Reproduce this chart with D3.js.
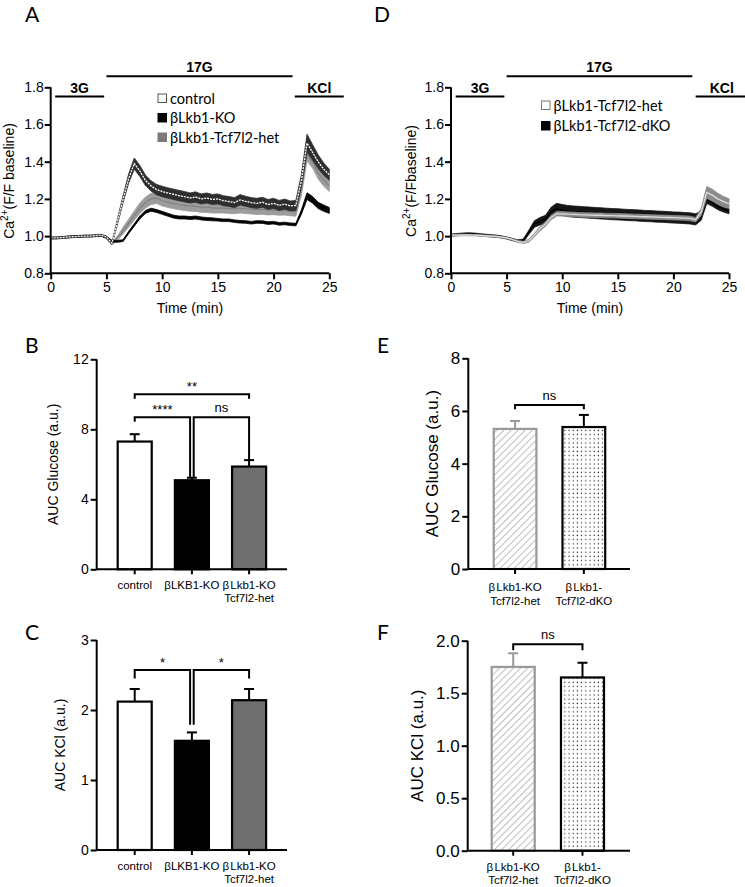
<!DOCTYPE html>
<html><head><meta charset="utf-8">
<script src="https://cdn.jsdelivr.net/npm/d3@7/dist/d3.min.js"></script>
<style>
body{margin:0;background:#fff}
svg{display:block}
text{font-family:"Liberation Sans",Arial,sans-serif;fill:#000}
.axis path,.axis line{stroke:#000;stroke-width:2}
</style>
</head><body>
<svg id="c" width="745" height="887"></svg>
<script>
// ---------------- DATA ----------------
const timeMin = [0,0.5,1,1.5,2,2.5,3,3.5,4,4.5,5,5.5,6,6.5,7,7.5,8,8.5,9,9.5,10,10.5,11,11.5,12,12.5,13,13.5,14,14.5,15,15.5,16,16.5,17,17.5,18,18.5,19,19.5,20,20.5,21,21.5,22,22.5,23,23.5,24,24.5,25];

// Panel A
const controlMean = [0.990,0.990,0.992,0.995,0.997,0.998,1.000,1.000,1.002,1.005,
 0.995,0.962,1.080,1.200,1.310,1.390,1.350,1.300,1.270,1.250,
 1.240,1.232,1.225,1.218,1.212,1.205,1.210,1.200,1.205,1.197,
 1.200,1.190,1.186,1.180,1.195,1.187,1.180,1.176,1.182,1.170,
 1.176,1.165,1.172,1.162,1.165,1.300,1.500,1.450,1.400,1.360,
 1.330];
const controlSEM = [0.005,0.005,0.005,0.005,0.005,0.005,0.005,0.005,0.005,0.005,
 0.006,0.008,0.015,0.020,0.025,0.030,0.030,0.028,0.028,0.028,
 0.028,0.028,0.028,0.028,0.028,0.027,0.028,0.027,0.027,0.027,
 0.027,0.027,0.027,0.027,0.028,0.027,0.027,0.027,0.027,0.027,
 0.027,0.027,0.027,0.027,0.027,0.032,0.048,0.042,0.037,0.033,
 0.030];
const koMean = [0.990,0.990,0.992,0.995,0.997,0.998,1.000,1.000,1.002,1.004,
 0.995,0.972,0.972,0.976,1.020,1.060,1.100,1.130,1.142,1.135,
 1.125,1.115,1.105,1.100,1.100,1.097,1.100,1.095,1.092,1.090,
 1.088,1.085,1.085,1.080,1.077,1.076,1.072,1.076,1.075,1.070,
 1.072,1.066,1.068,1.064,1.062,1.130,1.215,1.195,1.165,1.150,
 1.138];
const koSEM = [0.004,0.004,0.004,0.004,0.004,0.004,0.004,0.004,0.004,0.004,
 0.004,0.005,0.005,0.005,0.006,0.007,0.008,0.008,0.008,0.008,
 0.008,0.008,0.008,0.008,0.008,0.008,0.008,0.008,0.008,0.008,
 0.007,0.007,0.007,0.007,0.007,0.007,0.007,0.007,0.007,0.007,
 0.007,0.007,0.007,0.007,0.007,0.012,0.018,0.018,0.017,0.017,
 0.016];
const hetMean = [0.990,0.990,0.992,0.995,0.997,0.998,1.000,1.000,1.002,1.004,
 0.990,0.960,0.990,1.030,1.070,1.110,1.150,1.180,1.200,1.205,
 1.190,1.182,1.176,1.170,1.165,1.162,1.160,1.156,1.155,1.152,
 1.150,1.150,1.148,1.146,1.150,1.147,1.145,1.142,1.143,1.140,
 1.140,1.137,1.138,1.134,1.132,1.250,1.440,1.400,1.340,1.300,
 1.270];
const hetSEM = [0.005,0.005,0.005,0.005,0.005,0.005,0.005,0.005,0.005,0.005,
 0.005,0.008,0.012,0.018,0.022,0.025,0.028,0.030,0.030,0.030,
 0.028,0.028,0.028,0.028,0.028,0.028,0.028,0.028,0.028,0.028,
 0.026,0.026,0.026,0.026,0.026,0.026,0.026,0.026,0.026,0.026,
 0.025,0.025,0.025,0.025,0.025,0.030,0.035,0.035,0.033,0.032,
 0.030];

// Panel D
const dHetMean = [1.005,1.005,1.006,1.006,1.005,1.004,1.002,1.000,0.998,0.995,
 0.990,0.982,0.972,0.966,0.975,1.005,1.040,1.065,1.100,1.120,
 1.120,1.118,1.117,1.115,1.114,1.113,1.112,1.112,1.110,1.110,
 1.109,1.108,1.107,1.106,1.105,1.104,1.103,1.102,1.101,1.100,
 1.099,1.098,1.097,1.095,1.088,1.130,1.235,1.220,1.200,1.185,
 1.175];
const dHetSEM = [0.004,0.004,0.004,0.004,0.004,0.004,0.004,0.004,0.004,0.004,
 0.004,0.004,0.005,0.006,0.008,0.010,0.012,0.012,0.012,0.012,
 0.012,0.012,0.012,0.012,0.012,0.012,0.012,0.012,0.012,0.012,
 0.012,0.012,0.012,0.012,0.012,0.012,0.012,0.012,0.012,0.012,
 0.012,0.012,0.012,0.012,0.012,0.020,0.032,0.032,0.030,0.028,
 0.026];
const dKoMean = [1.005,1.008,1.010,1.012,1.011,1.008,1.005,1.002,1.000,0.996,
 0.990,0.982,0.974,0.976,1.020,1.065,1.080,1.090,1.130,1.148,
 1.140,1.135,1.132,1.130,1.128,1.126,1.124,1.122,1.120,1.118,
 1.117,1.115,1.113,1.112,1.110,1.108,1.107,1.105,1.104,1.102,
 1.100,1.099,1.097,1.095,1.090,1.110,1.195,1.180,1.160,1.145,
 1.135];
const dKoSEM = [0.006,0.006,0.006,0.006,0.006,0.006,0.006,0.006,0.006,0.006,
 0.006,0.006,0.006,0.008,0.012,0.018,0.020,0.022,0.025,0.028,
 0.030,0.030,0.030,0.030,0.030,0.030,0.030,0.030,0.030,0.030,
 0.030,0.030,0.030,0.030,0.030,0.030,0.030,0.030,0.030,0.030,
 0.030,0.030,0.030,0.030,0.030,0.025,0.020,0.020,0.018,0.016,
 0.015];

const traceXTicks = [0,5,10,15,20,25];
const traceYTicks = [0.8,1.0,1.2,1.4,1.6,1.8];
const stimLabels = ["3G","17G","KCl"];
const stimStartA = [0.4,5.0,21.9], stimEndA = [4.8,21.7,26.3];
const stimStartD = [0.42,5.0,22.0], stimEndD = [4.8,21.7,26.7];
const stimLevel = [1.75,1.86,1.75];
const legendA = ["control","βLkb1-KO","βLkb1-Tcf7l2-het"];
const legendD = ["βLkb1-Tcf7l2-het","βLkb1-Tcf7l2-dKO"];

// Bar panels
const groups3 = ["control","βLKB1-KO","βLkb1-KO\nTcf7l2-het"];
const glucoseMean = [7.30,5.09,5.87];
const glucoseSEM = [0.42,0.14,0.37];
const glucoseTicks = [0,4,8,12];
const kclMean = [2.12,1.56,2.14];
const kclSEM = [0.18,0.12,0.16];
const kclTicks = [0,1,2,3];
const groups2 = ["βLkb1-KO\nTcf7l2-het","βLkb1-\nTcf7l2-dKO"];
const glucose2Mean = [5.32,5.39];
const glucose2SEM = [0.30,0.46];
const glucose2Ticks = [0,2,4,6,8];
const kcl2Mean = [1.75,1.65];
const kcl2SEM = [0.13,0.14];
const kcl2Ticks = [0,0.5,1.0,1.5,2.0];

// comparisons: [groupA, groupB, bracket level, tip A, tip B, label]
const compB = [[0,2,10.0,9.75,9.75,"**"],[0,1,8.69,8.43,5.25,"****"],[1,2,8.69,5.25,6.25,"ns"]];
const compC = [[0,1,2.57,2.45,1.79,"*"],[1,2,2.57,1.79,2.45,"*"]];
const compE = [[0,1,6.23,6.07,6.07,"ns"]];
const compF = [[0,1,1.966,1.91,1.91,"ns"]];

// ---------------- DRAW ----------------
const svg = d3.select("#c");
const defs = svg.append("defs");
const hatch = defs.append("pattern").attr("id","hatch").attr("width",5).attr("height",5)
  .attr("patternUnits","userSpaceOnUse").attr("patternTransform","rotate(45)");
hatch.append("line").attr("x1",0).attr("y1",0).attr("x2",0).attr("y2",5).attr("stroke","#9a9a9a").attr("stroke-width",1.3);
const dots = defs.append("pattern").attr("id","dots").attr("width",4.2).attr("height",4.2).attr("patternUnits","userSpaceOnUse");
dots.append("circle").attr("cx",2).attr("cy",2).attr("r",0.65).attr("fill","#222");

function panelLetter(t,x,y){
  svg.append("text").attr("x",x).attr("y",y).text(t)
    .style("font-family","Lato,'Open Sans',sans-serif").style("font-size","21px");
}

function tracePanel(o){
  const g = svg.append("g");
  const x = d3.scaleLinear().domain([0,25]).range(o.xr);
  const y = d3.scaleLinear().domain([0.8,1.8]).range([273.3,87.3]);
  o.series.forEach(s=>{
    const area = d3.area().x((d,i)=>x(timeMin[i])).y0((d,i)=>y(s.mean[i]-s.sem[i])).y1((d,i)=>y(s.mean[i]+s.sem[i]));
    g.append("path").attr("d",area(s.mean)).attr("fill",s.band).attr("stroke",s.band).attr("stroke-width",0.8);
    const line = d3.line().x((d,i)=>x(timeMin[i])).y(d=>y(d));
    g.append("path").attr("d",line(s.mean)).attr("fill","none").attr("stroke",s.line).attr("stroke-width",s.lw||1.2)
      .attr("stroke-dasharray",s.dash||null);
  });
  const ax = g.append("g").attr("class","axis").attr("transform",`translate(0,${y(0.8)})`)
    .call(d3.axisBottom(x).tickValues(traceXTicks).tickSize(6).tickPadding(3).tickFormat(d3.format("d")));
  ax.selectAll("text").style("font-size","14px");
  const ay = g.append("g").attr("class","axis").attr("transform",`translate(${x(0)},0)`)
    .call(d3.axisLeft(y).tickValues(traceYTicks).tickSize(6).tickPadding(1).tickFormat(d3.format(".1f")));
  ay.selectAll("text").style("font-size","14px");
  ax.select(".domain").attr("d",`M${x(0)},0H${x(25)}`);
  ay.select(".domain").attr("d",`M0,${y(0.8)}V${y(1.8)}`);
  g.append("text").attr("x",(x(0)+x(25))/2).attr("y",313).attr("text-anchor","middle").style("font-size","14px").text("Time (min)");
  const yt = g.append("text").attr("transform",`translate(${o.ylx},181) rotate(-90)`).attr("text-anchor","middle").style("font-size","14px");
  yt.append("tspan").text("Ca");
  yt.append("tspan").attr("dy",-6).style("font-size","10px").text("2+");
  yt.append("tspan").attr("dy",6).text(o.ylab);
  stimLabels.forEach((lab,i)=>{
    const x1 = x(o.stimStart[i]), x2 = x(o.stimEnd[i]), yy = y(stimLevel[i]);
    g.append("line").attr("x1",x1).attr("x2",x2).attr("y1",yy).attr("y2",yy).attr("stroke","#000").attr("stroke-width",2);
    g.append("text").attr("x",(x1+x2)/2).attr("y",yy-4).attr("text-anchor","middle")
      .style("font-size","14px").style("font-weight","bold").text(lab);
  });
  o.legend.forEach((lab,i)=>{
    const ly = o.legY + i*o.legDy;
    g.append("rect").attr("x",o.legX).attr("y",ly-4.5).attr("width",8.5).attr("height",8.5)
      .attr("fill",o.legFill[i]).attr("stroke",o.legStroke[i]).attr("stroke-width",1);
    g.append("text").attr("x",o.legX+12).attr("y",ly+5).text(lab)
      .style("font-family","Lato,'Open Sans',sans-serif").style("font-size","14.5px");
  });
}

tracePanel({xr:[50.7,329.3], ylx:14, ylab:"(F/F baseline)",
  stimStart:stimStartA, stimEnd:stimEndA,
  series:[
    {mean:hetMean, sem:hetSEM, band:"#9c9c9c", line:"#808080"},
    {mean:koMean, sem:koSEM, band:"#050505", line:"#000"},
    {mean:controlMean, sem:controlSEM, band:"#2e2e2e", line:"#ffffff", lw:1.3, dash:"2,1"}
  ],
  legend:legendA, legX:158, legY:98.5, legDy:19.5,
  legFill:["#fff","#000","#7a7a7a"], legStroke:["#555","#000","#7a7a7a"]});

tracePanel({xr:[451,729], ylx:416, ylab:"(F/Fbaseline)",
  stimStart:stimStartD, stimEnd:stimEndD,
  series:[
    {mean:dKoMean, sem:dKoSEM, band:"#151515", line:"#000"},
    {mean:dHetMean, sem:dHetSEM, band:"#8c8c8c", line:"#dcdcdc", lw:1.3}
  ],
  legend:legendD, legX:541.5, legY:105.5, legDy:20.5,
  legFill:["#fff","#000"], legStroke:["#777","#000"]});

function barPanel(o){
  const g = svg.append("g");
  const x = d3.scaleBand().domain(o.cats).range(o.xr).paddingInner(o.pad).paddingOuter(0);
  const y = d3.scaleLinear().domain([0,o.ticks[o.ticks.length-1]]).range(o.yr);
  const bw = x.bandwidth();
  o.cats.forEach((c,i)=>{
    const cx = x(c)+bw/2;
    g.append("line").attr("x1",cx).attr("x2",cx).attr("y1",y(o.mean[i])).attr("y2",y(o.mean[i]+o.sem[i]))
      .attr("stroke",o.stroke[i]).attr("stroke-width",2);
    g.append("line").attr("x1",cx-5).attr("x2",cx+5).attr("y1",y(o.mean[i]+o.sem[i])).attr("y2",y(o.mean[i]+o.sem[i]))
      .attr("stroke",o.stroke[i]).attr("stroke-width",2);
    g.append("rect").attr("x",x(c)+1).attr("y",y(o.mean[i])).attr("width",bw-2).attr("height",y(0)-y(o.mean[i]))
      .attr("fill",o.fill[i]).attr("stroke",o.stroke[i]).attr("stroke-width",o.bsw);
    const lines = c.split("\n");
    lines.forEach((l,k)=>{
      const t = g.append("text").attr("x",cx).attr("y",o.labY + k*o.labDy).attr("text-anchor","middle").style("font-size","11.5px");
      if(l.startsWith("β") && l!=="βLKB1-KO"){
        t.append("tspan").text("β");
        t.append("tspan").attr("dx",1.2).text(l.slice(1));
      } else t.text(l);
    });
  });
  const ay = g.append("g").attr("class","axis").attr("transform",`translate(${o.xAxis},0)`)
    .call(d3.axisLeft(y).tickValues(o.ticks).tickSize(6).tickPadding(2).tickFormat(o.fmt));
  ay.selectAll("text").style("font-size",o.tickFont);
  ay.select(".domain").attr("d",`M0,${y(0)}V${y(o.ticks[o.ticks.length-1])}`);
  const ax = g.append("g").attr("class","axis").attr("transform",`translate(0,${y(0)})`)
    .call(d3.axisBottom(x).tickSize(5).tickFormat(""));
  ax.select(".domain").attr("d",`M${o.xAxis},0H${o.xEnd}`);
  ax.selectAll(".tick line").attr("stroke-width",1.5);
  g.append("text").attr("transform",`translate(${o.ylx},${(y(0)+y(o.ticks[o.ticks.length-1]))/2}) rotate(-90)`)
    .attr("text-anchor","middle").style("font-size",o.ylFont).text(o.ylab);
  o.comps.forEach(cp=>{
    const [a,b,lev,ta,tb,lab] = cp;
    let xa = x(o.cats[a])+bw/2, xb = x(o.cats[b])+bw/2;
    const shareR = o.comps.some(q=>q!==cp && q[2]===lev && q[0]===b);
    const shareL = o.comps.some(q=>q!==cp && q[2]===lev && q[1]===a);
    if(shareR) xb -= 1.8;
    if(shareL) xa += 1.8;
    g.append("path").attr("d",`M${xa},${y(ta)}V${y(lev)}H${xb}V${y(tb)}`)
      .attr("fill","none").attr("stroke","#000").attr("stroke-width",2);
    g.append("text").attr("x",(xa+xb)/2).attr("y",y(lev)-(lab==="ns"?5:3)).attr("text-anchor","middle")
      .style("font-size","13px").text(lab);
  });
}

barPanel({cats:groups3, mean:glucoseMean, sem:glucoseSEM, ticks:glucoseTicks, fmt:d3.format("d"),
  xr:[116.7,267.1], pad:0.37, yr:[569.3,359.3], xAxis:96.7, xEnd:287,
  fill:["#fff","#000","#6f6f6f"], stroke:["#000","#000","#000"], bsw:2.2,
  labY:588.5, labDy:13, tickFont:"14px", ylFont:"14px", ylx:58, ylab:"AUC Glucose (a.u.)", comps:compB});

barPanel({cats:groups3, mean:kclMean, sem:kclSEM, ticks:kclTicks, fmt:d3.format("d"),
  xr:[116.7,267.1], pad:0.37, yr:[850,640], xAxis:96.7, xEnd:287,
  fill:["#fff","#000","#6f6f6f"], stroke:["#000","#000","#000"], bsw:2.2,
  labY:869.5, labDy:13.5, tickFont:"14px", ylFont:"14px", ylx:65, ylab:"AUC KCl (a.u.)", comps:compC});

barPanel({cats:groups2, mean:glucose2Mean, sem:glucose2SEM, ticks:glucose2Ticks, fmt:d3.format("d"),
  xr:[492.7,606.2], pad:0.35, yr:[569,358.3], xAxis:468.3, xEnd:630,
  fill:["url(#hatch)","url(#dots)"], stroke:["#999","#000"], bsw:2.2,
  labY:591, labDy:14, tickFont:"17px", ylFont:"17px", ylx:438, ylab:"AUC Glucose (a.u.)", comps:compE});

barPanel({cats:groups2, mean:kcl2Mean, sem:kcl2SEM, ticks:kcl2Ticks, fmt:d3.format(".1f"),
  xr:[490.7,605], pad:0.35, yr:[850.7,640.7], xAxis:467.7, xEnd:630,
  fill:["url(#hatch)","url(#dots)"], stroke:["#999","#000"], bsw:2.2,
  labY:870.5, labDy:13, tickFont:"17px", ylFont:"17px", ylx:423, ylab:"AUC KCl (a.u.)", comps:compF});

panelLetter("A",25,22);
panelLetter("D",374,22);
panelLetter("B",25,353);
panelLetter("E",377,353);
panelLetter("C",25,640);
panelLetter("F",377,640);
</script>
</body></html>
